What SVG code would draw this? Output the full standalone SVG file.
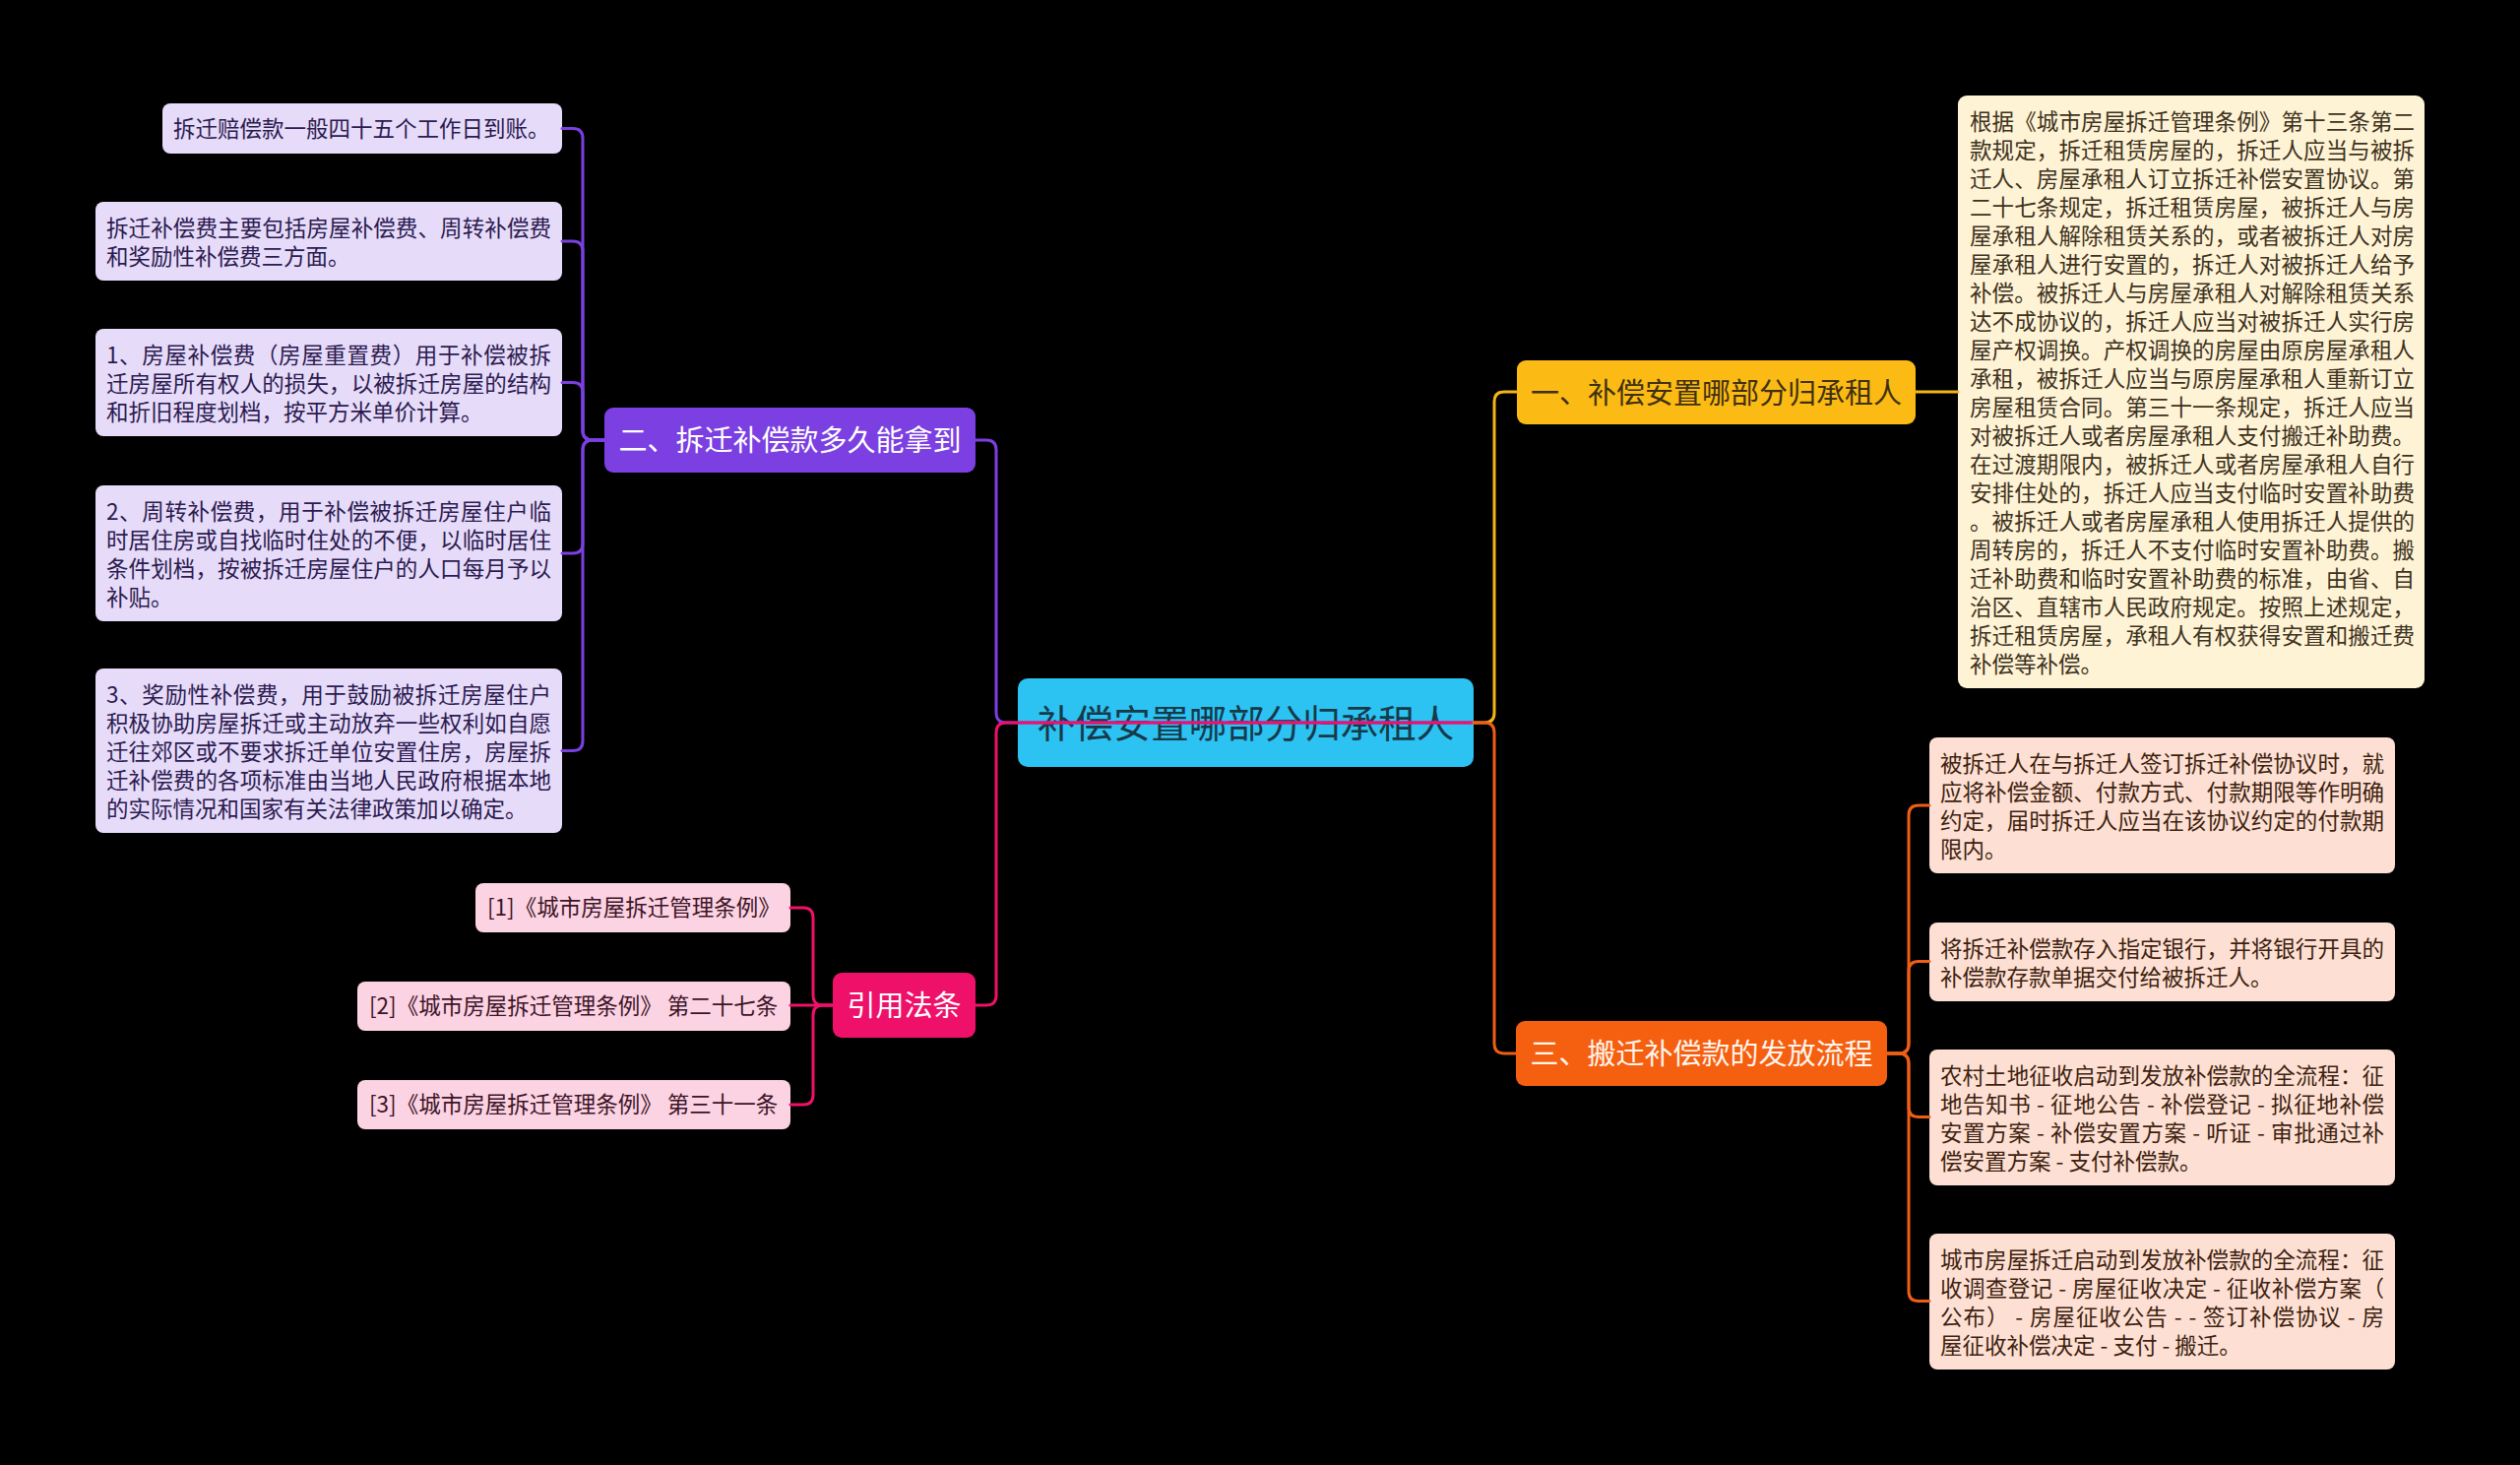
<svg xmlns="http://www.w3.org/2000/svg" width="2560" height="1488" viewBox="0 0 2560 1488">
<style>
text{font-family:'Noto Sans CJK SC','Noto Sans',sans-serif;dominant-baseline:central;transform:translate(0px,-2px)}
.lf{font-size:22.5px}
.hd{font-size:29px;text-anchor:middle}
.rt{font-size:38.5px;text-anchor:middle;fill:#163a4a}
.pbox{fill:#e6dcfa}.ptx{fill:#2c1a4f}
.kbox{fill:#fcd3e2}.ktx{fill:#3d1428}
.ybox{fill:#fff3d6}.ytx{fill:#3d3220}
.obox{fill:#fde0d3}.otx{fill:#3e1f10}
.c{fill:none;stroke-width:3;stroke-linecap:round}
.cp{stroke:#7b3fe2}.ck{stroke:#ef1169}.cy{stroke:#f4b516}.co{stroke:#ef5e16}
</style>
<rect width="2560" height="1488" fill="#000"/>

<g id="root">
<rect x="1034" y="689" width="463" height="90" rx="10" fill="#2cc3f3"/>
<text class="rt" x="1265.5" y="734">补偿安置哪部分归承租人</text>
</g>

<g id="b2">
<rect x="614" y="414" width="377" height="66" rx="9" fill="#7b3fe2"/>
<text class="hd" x="802.5" y="447" fill="#fff">二、拆迁补偿款多久能拿到</text>
</g>
<g id="b2n1">
<rect class="pbox" x="165" y="105" width="406" height="51" rx="8"/>
<text class="lf ptx" x="176" y="131">拆迁赔偿款一般四十五个工作日到账。</text>
</g>
<g id="b2n2">
<rect class="pbox" x="97" y="205" width="474" height="80" rx="8"/>
<text class="lf ptx" x="108" y="232" textLength="452" lengthAdjust="spacing">拆迁补偿费主要包括房屋补偿费、周转补偿费</text>
<text class="lf ptx" x="108" y="261">和奖励性补偿费三方面。</text>
</g>
<g id="b2n3">
<rect class="pbox" x="97" y="334" width="474" height="109" rx="8"/>
<text class="lf ptx" x="108" y="361" textLength="452" lengthAdjust="spacing">1、房屋补偿费（房屋重置费）用于补偿被拆</text>
<text class="lf ptx" x="108" y="390" textLength="452" lengthAdjust="spacing">迁房屋所有权人的损失，以被拆迁房屋的结构</text>
<text class="lf ptx" x="108" y="419">和折旧程度划档，按平方米单价计算。</text>
</g>
<g id="b2n4">
<rect class="pbox" x="97" y="493" width="474" height="138" rx="8"/>
<text class="lf ptx" x="108" y="520" textLength="452" lengthAdjust="spacing">2、周转补偿费，用于补偿被拆迁房屋住户临</text>
<text class="lf ptx" x="108" y="549" textLength="452" lengthAdjust="spacing">时居住房或自找临时住处的不便，以临时居住</text>
<text class="lf ptx" x="108" y="578" textLength="452" lengthAdjust="spacing">条件划档，按被拆迁房屋住户的人口每月予以</text>
<text class="lf ptx" x="108" y="607">补贴。</text>
</g>
<g id="b2n5">
<rect class="pbox" x="97" y="679" width="474" height="167" rx="8"/>
<text class="lf ptx" x="108" y="706" textLength="452" lengthAdjust="spacing">3、奖励性补偿费，用于鼓励被拆迁房屋住户</text>
<text class="lf ptx" x="108" y="735" textLength="452" lengthAdjust="spacing">积极协助房屋拆迁或主动放弃一些权利如自愿</text>
<text class="lf ptx" x="108" y="764" textLength="452" lengthAdjust="spacing">迁往郊区或不要求拆迁单位安置住房，房屋拆</text>
<text class="lf ptx" x="108" y="793" textLength="452" lengthAdjust="spacing">迁补偿费的各项标准由当地人民政府根据本地</text>
<text class="lf ptx" x="108" y="822">的实际情况和国家有关法律政策加以确定。</text>
</g>

<g id="ref">
<rect x="846" y="988" width="145" height="66" rx="9" fill="#ef1169"/>
<text class="hd" x="918.5" y="1021" fill="#fff">引用法条</text>
</g>
<g id="ref1">
<rect class="kbox" x="483" y="897" width="320" height="50" rx="8"/>
<text class="lf ktx" x="495" y="922">[1]《城市房屋拆迁管理条例》</text>
</g>
<g id="ref2">
<rect class="kbox" x="363" y="997" width="440" height="50" rx="8"/>
<text class="lf ktx" x="375" y="1022">[2]《城市房屋拆迁管理条例》 第二十七条</text>
</g>
<g id="ref3">
<rect class="kbox" x="363" y="1097" width="440" height="50" rx="8"/>
<text class="lf ktx" x="375" y="1122">[3]《城市房屋拆迁管理条例》 第三十一条</text>
</g>

<g id="b1">
<rect x="1541" y="366" width="405" height="65" rx="9" fill="#fbbb14"/>
<text class="hd" x="1743.5" y="398.5" fill="#3f3010">一、补偿安置哪部分归承租人</text>
</g>
<g id="b1n1">
<rect class="ybox" x="1989" y="97" width="474" height="602" rx="9"/>
<text class="lf ytx" x="2001" y="124" textLength="452" lengthAdjust="spacing">根据《城市房屋拆迁管理条例》第十三条第二</text>
<text class="lf ytx" x="2001" y="153" textLength="452" lengthAdjust="spacing">款规定，拆迁租赁房屋的，拆迁人应当与被拆</text>
<text class="lf ytx" x="2001" y="182" textLength="452" lengthAdjust="spacing">迁人、房屋承租人订立拆迁补偿安置协议。第</text>
<text class="lf ytx" x="2001" y="211" textLength="452" lengthAdjust="spacing">二十七条规定，拆迁租赁房屋，被拆迁人与房</text>
<text class="lf ytx" x="2001" y="240" textLength="452" lengthAdjust="spacing">屋承租人解除租赁关系的，或者被拆迁人对房</text>
<text class="lf ytx" x="2001" y="269" textLength="452" lengthAdjust="spacing">屋承租人进行安置的，拆迁人对被拆迁人给予</text>
<text class="lf ytx" x="2001" y="298" textLength="452" lengthAdjust="spacing">补偿。被拆迁人与房屋承租人对解除租赁关系</text>
<text class="lf ytx" x="2001" y="327" textLength="452" lengthAdjust="spacing">达不成协议的，拆迁人应当对被拆迁人实行房</text>
<text class="lf ytx" x="2001" y="356" textLength="452" lengthAdjust="spacing">屋产权调换。产权调换的房屋由原房屋承租人</text>
<text class="lf ytx" x="2001" y="385" textLength="452" lengthAdjust="spacing">承租，被拆迁人应当与原房屋承租人重新订立</text>
<text class="lf ytx" x="2001" y="414" textLength="452" lengthAdjust="spacing">房屋租赁合同。第三十一条规定，拆迁人应当</text>
<text class="lf ytx" x="2001" y="443" textLength="452" lengthAdjust="spacing">对被拆迁人或者房屋承租人支付搬迁补助费。</text>
<text class="lf ytx" x="2001" y="472" textLength="452" lengthAdjust="spacing">在过渡期限内，被拆迁人或者房屋承租人自行</text>
<text class="lf ytx" x="2001" y="501" textLength="452" lengthAdjust="spacing">安排住处的，拆迁人应当支付临时安置补助费</text>
<text class="lf ytx" x="2001" y="530" textLength="452" lengthAdjust="spacing">。被拆迁人或者房屋承租人使用拆迁人提供的</text>
<text class="lf ytx" x="2001" y="559" textLength="452" lengthAdjust="spacing">周转房的，拆迁人不支付临时安置补助费。搬</text>
<text class="lf ytx" x="2001" y="588" textLength="452" lengthAdjust="spacing">迁补助费和临时安置补助费的标准，由省、自</text>
<text class="lf ytx" x="2001" y="617" textLength="452" lengthAdjust="spacing">治区、直辖市人民政府规定。按照上述规定，</text>
<text class="lf ytx" x="2001" y="646" textLength="452" lengthAdjust="spacing">拆迁租赁房屋，承租人有权获得安置和搬迁费</text>
<text class="lf ytx" x="2001" y="675">补偿等补偿。</text>
</g>

<g id="b3">
<rect x="1540" y="1037" width="377" height="66" rx="9" fill="#f55f10"/>
<text class="hd" x="1728.5" y="1070" fill="#fff5ee">三、搬迁补偿款的发放流程</text>
</g>
<g id="b3n1">
<rect class="obox" x="1960" y="749" width="473" height="138" rx="8"/>
<text class="lf otx" x="1971" y="776" textLength="451" lengthAdjust="spacing">被拆迁人在与拆迁人签订拆迁补偿协议时，就</text>
<text class="lf otx" x="1971" y="805" textLength="451" lengthAdjust="spacing">应将补偿金额、付款方式、付款期限等作明确</text>
<text class="lf otx" x="1971" y="834" textLength="451" lengthAdjust="spacing">约定，届时拆迁人应当在该协议约定的付款期</text>
<text class="lf otx" x="1971" y="863">限内。</text>
</g>
<g id="b3n2">
<rect class="obox" x="1960" y="937" width="473" height="80" rx="8"/>
<text class="lf otx" x="1971" y="964" textLength="451" lengthAdjust="spacing">将拆迁补偿款存入指定银行，并将银行开具的</text>
<text class="lf otx" x="1971" y="993">补偿款存款单据交付给被拆迁人。</text>
</g>
<g id="b3n3">
<rect class="obox" x="1960" y="1066" width="473" height="138" rx="8"/>
<text class="lf otx" x="1971" y="1093" textLength="451" lengthAdjust="spacing">农村土地征收启动到发放补偿款的全流程：征</text>
<text class="lf otx" x="1971" y="1122" textLength="451" lengthAdjust="spacing">地告知书 - 征地公告 - 补偿登记 - 拟征地补偿</text>
<text class="lf otx" x="1971" y="1151" textLength="451" lengthAdjust="spacing">安置方案 - 补偿安置方案 - 听证 - 审批通过补</text>
<text class="lf otx" x="1971" y="1180">偿安置方案 - 支付补偿款。</text>
</g>
<g id="b3n4">
<rect class="obox" x="1960" y="1253" width="473" height="138" rx="8"/>
<text class="lf otx" x="1971" y="1280" textLength="451" lengthAdjust="spacing">城市房屋拆迁启动到发放补偿款的全流程：征</text>
<text class="lf otx" x="1971" y="1309" textLength="451" lengthAdjust="spacing">收调查登记 - 房屋征收决定 - 征收补偿方案（</text>
<text class="lf otx" x="1971" y="1338" textLength="451" lengthAdjust="spacing">公布） - 房屋征收公告 - - 签订补偿协议 - 房</text>
<text class="lf otx" x="1971" y="1367">屋征收补偿决定 - 支付 - 搬迁。</text>
</g>

<g id="connectors">
<path class="c cp" d="M1497,734 H1022 Q1012,734 1012,724 V457 Q1012,447 1002,447 H991"/>
<path class="c ck" d="M1497,734 H1022 Q1012,734 1012,744 V1011 Q1012,1021 1002,1021 H991"/>
<path class="c cy" d="M1497,734 H1508 Q1518,734 1518,724 V408 Q1518,398 1528,398 H1541"/>
<path class="c co" d="M1497,734 H1508 Q1518,734 1518,744 V1060 Q1518,1070 1528,1070 H1540"/>
<path class="c cy" d="M1946,398 H1989"/>
<path class="c cp" d="M614,447 H602 Q592,447 592,437 V140.5 Q592,130.5 582,130.5 H571"/>
<path class="c cp" d="M614,447 H602 Q592,447 592,437 V255 Q592,245 582,245 H571"/>
<path class="c cp" d="M614,447 H602 Q592,447 592,437 V398.5 Q592,388.5 582,388.5 H571"/>
<path class="c cp" d="M614,447 H602 Q592,447 592,457 V552 Q592,562 582,562 H571"/>
<path class="c cp" d="M614,447 H602 Q592,447 592,457 V752.5 Q592,762.5 582,762.5 H571"/>
<path class="c ck" d="M846,1021 H836 Q826,1021 826,1011 V932 Q826,922 816,922 H803"/>
<path class="c ck" d="M846,1021 H803"/>
<path class="c ck" d="M846,1021 H836 Q826,1021 826,1031 V1112 Q826,1122 816,1122 H803"/>
<path class="c co" d="M1917,1070 H1929 Q1939,1070 1939,1060 V828 Q1939,818 1949,818 H1960"/>
<path class="c co" d="M1917,1070 H1929 Q1939,1070 1939,1060 V986.5 Q1939,976.5 1949,976.5 H1960"/>
<path class="c co" d="M1917,1070 H1929 Q1939,1070 1939,1080 V1124.5 Q1939,1134.5 1949,1134.5 H1960"/>
<path class="c co" d="M1917,1070 H1929 Q1939,1070 1939,1080 V1311.5 Q1939,1321.5 1949,1321.5 H1960"/>
</g>
</svg>
